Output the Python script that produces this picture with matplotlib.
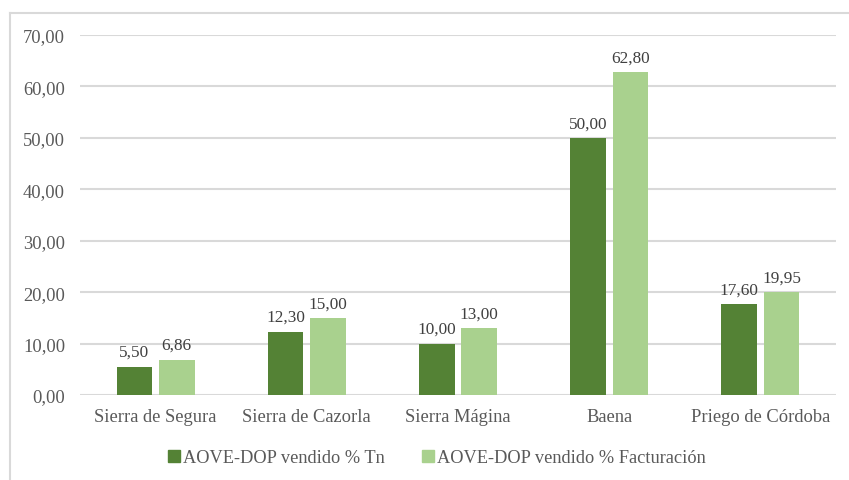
import numpy as np
import matplotlib.pyplot as plt
from matplotlib.lines import Line2D

plt.rcParams['font.family'] = ['Liberation Serif', 'DejaVu Serif']

# Datos
zonas = ["Sierra de Segura", "Sierra de Cazorla", "Sierra Mágina", "Baena", "Priego de Córdoba"]
tn = [5.50, 12.30, 10.00, 50.00, 17.60]
facturacion = [6.86, 15.00, 13.00, 62.80, 19.95]
series = ["AOVE-DOP vendido % Tn", "AOVE-DOP vendido % Facturación"]
colores = ["#548235", "#A9D18E"]

gris = "#595959"

fig = plt.figure(figsize=(8.49, 4.81), dpi=100)
ax = fig.add_axes([80/849, 1 - 396/481, 756/849, 360/481])

x = np.arange(len(zonas))
w = 0.235
off = 0.14
b1 = ax.bar(x - off, tn, w, color=colores[0], zorder=3)
b2 = ax.bar(x + off, facturacion, w, color=colores[1], zorder=3)

def fmt(v):
    return f"{v:.2f}".replace(".", ",")

for bars, vals in [(b1, tn), (b2, facturacion)]:
    for b, v in zip(bars, vals):
        ax.text(b.get_x() + b.get_width()/2, v + 1.3, fmt(v), ha='center', va='bottom',
                fontsize=12.4, color="#404040")

ax.set_xlim(-0.5, len(zonas) - 0.5)
ax.set_ylim(0, 70)
ax.set_yticks(np.arange(0, 71, 10))
ax.set_yticklabels([fmt(v) for v in np.arange(0, 71, 10)])
ax.set_xticks(x)
ax.set_xticklabels(zonas)
ax.tick_params(axis='both', length=0, labelsize=13.3, colors=gris)
ax.tick_params(axis='y', pad=10.8)
ax.tick_params(axis='x', pad=9)
ax.yaxis.grid(True, color="#D9D9D9", linewidth=1.5, zorder=0)
for s in ax.spines.values():
    s.set_visible(False)

# Leyenda
handles = [Line2D([], [], marker='s', linestyle='none', markersize=8.5, color=c) for c in colores]
fig.legend(handles, series, loc='center', bbox_to_anchor=(436/849, 1 - 459/481), ncol=2,
           frameon=False, fontsize=13.2, labelcolor=gris, handletextpad=0.05,
           handlelength=0.9, columnspacing=1.9)

# Marco del gráfico
fig.add_artist(Line2D([10/849, 1], [1 - 14/481] * 2, color="#D9D9D9", linewidth=1.5))
fig.add_artist(Line2D([10/849] * 2, [0, 1 - 14/481], color="#D9D9D9", linewidth=1.5))

fig.savefig("out.png", dpi=100)
